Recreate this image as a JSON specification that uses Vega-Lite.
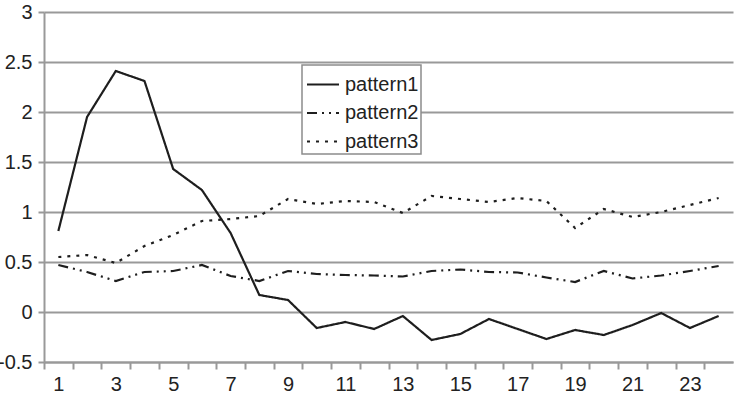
{
  "$schema": "https://vega.github.io/schema/vega-lite/v6.json",
  "width": 689,
  "height": 350,
  "autosize": {"type": "none"},
  "padding": {"left": 44, "top": 12, "right": 1, "bottom": 40},
  "background": "white",
  "config": {
    "view": {"stroke": null},
    "font": "Liberation Sans"
  },
  "datasets": {
    "d": [
      {"x":1,"series":"pattern1","value":0.81},{"x":2,"series":"pattern1","value":1.95},{"x":3,"series":"pattern1","value":2.41},{"x":4,"series":"pattern1","value":2.31},{"x":5,"series":"pattern1","value":1.43},{"x":6,"series":"pattern1","value":1.22},{"x":7,"series":"pattern1","value":0.79},{"x":8,"series":"pattern1","value":0.17},{"x":9,"series":"pattern1","value":0.12},{"x":10,"series":"pattern1","value":-0.16},{"x":11,"series":"pattern1","value":-0.1},{"x":12,"series":"pattern1","value":-0.17},{"x":13,"series":"pattern1","value":-0.04},{"x":14,"series":"pattern1","value":-0.28},{"x":15,"series":"pattern1","value":-0.22},{"x":16,"series":"pattern1","value":-0.07},{"x":17,"series":"pattern1","value":-0.17},{"x":18,"series":"pattern1","value":-0.27},{"x":19,"series":"pattern1","value":-0.18},{"x":20,"series":"pattern1","value":-0.23},{"x":21,"series":"pattern1","value":-0.13},{"x":22,"series":"pattern1","value":-0.01},{"x":23,"series":"pattern1","value":-0.16},{"x":24,"series":"pattern1","value":-0.04},
      {"x":1,"series":"pattern2","value":0.47},{"x":2,"series":"pattern2","value":0.4},{"x":3,"series":"pattern2","value":0.31},{"x":4,"series":"pattern2","value":0.4},{"x":5,"series":"pattern2","value":0.41},{"x":6,"series":"pattern2","value":0.47},{"x":7,"series":"pattern2","value":0.36},{"x":8,"series":"pattern2","value":0.31},{"x":9,"series":"pattern2","value":0.41},{"x":10,"series":"pattern2","value":0.38},{"x":11,"series":"pattern2","value":0.37},{"x":12,"series":"pattern2","value":0.365},{"x":13,"series":"pattern2","value":0.355},{"x":14,"series":"pattern2","value":0.41},{"x":15,"series":"pattern2","value":0.425},{"x":16,"series":"pattern2","value":0.4},{"x":17,"series":"pattern2","value":0.395},{"x":18,"series":"pattern2","value":0.345},{"x":19,"series":"pattern2","value":0.3},{"x":20,"series":"pattern2","value":0.41},{"x":21,"series":"pattern2","value":0.335},{"x":22,"series":"pattern2","value":0.365},{"x":23,"series":"pattern2","value":0.41},{"x":24,"series":"pattern2","value":0.46},
      {"x":1,"series":"pattern3","value":0.55},{"x":2,"series":"pattern3","value":0.57},{"x":3,"series":"pattern3","value":0.49},{"x":4,"series":"pattern3","value":0.66},{"x":5,"series":"pattern3","value":0.77},{"x":6,"series":"pattern3","value":0.91},{"x":7,"series":"pattern3","value":0.93},{"x":8,"series":"pattern3","value":0.96},{"x":9,"series":"pattern3","value":1.13},{"x":10,"series":"pattern3","value":1.08},{"x":11,"series":"pattern3","value":1.11},{"x":12,"series":"pattern3","value":1.1},{"x":13,"series":"pattern3","value":0.99},{"x":14,"series":"pattern3","value":1.16},{"x":15,"series":"pattern3","value":1.13},{"x":16,"series":"pattern3","value":1.1},{"x":17,"series":"pattern3","value":1.14},{"x":18,"series":"pattern3","value":1.11},{"x":19,"series":"pattern3","value":0.84},{"x":20,"series":"pattern3","value":1.03},{"x":21,"series":"pattern3","value":0.95},{"x":22,"series":"pattern3","value":1.0},{"x":23,"series":"pattern3","value":1.07},{"x":24,"series":"pattern3","value":1.14}
    ]
  },
  "data": {"name": "d"},
  "mark": {"type": "line", "stroke": "#1e1e1e", "strokeWidth": 2.2, "strokeCap": "butt"},
  "encoding": {
    "x": {
      "field": "x",
      "type": "quantitative",
      "scale": {"domain": [0.5, 24.5], "nice": false, "zero": false},
      "axis": {
        "title": null,
        "values": [1,2,3,4,5,6,7,8,9,10,11,12,13,14,15,16,17,18,19,20,21,22,23,24],
        "labelExpr": "datum.value % 2 == 1 ? datum.label : ''",
        "tickOffset": -14.35,
        "labelOffset": 14.35,
        "grid": false,
        "domainColor": "#999999",
        "domainWidth": 2,
        "tickColor": "#999999",
        "tickWidth": 2,
        "tickSize": 7,
        "labelFontSize": 20,
        "labelColor": "#222",
        "labelPadding": 5,
        "labelFlush": false,
        "labelOverlap": false
      }
    },
    "y": {
      "field": "value",
      "type": "quantitative",
      "scale": {"domain": [-0.5, 3], "nice": false, "zero": false},
      "axis": {
        "title": null,
        "values": [-0.5, 0, 0.5, 1, 1.5, 2, 2.5, 3],
        "labelExpr": "'' + datum.value",
        "grid": true,
        "gridColor": "#999999",
        "gridWidth": 2,
        "domainColor": "#999999",
        "domainWidth": 2,
        "tickColor": "#999999",
        "tickWidth": 2,
        "tickSize": 6,
        "labelFontSize": 20,
        "labelColor": "#222",
        "labelPadding": 6,
        "labelFlush": false,
        "labelOverlap": false
      }
    },
    "strokeDash": {
      "field": "series",
      "type": "nominal",
      "scale": {
        "domain": ["pattern1", "pattern2", "pattern3"],
        "range": [[1, 0], [10, 5, 2, 5, 2, 5], [3, 6]]
      },
      "legend": {
        "title": null,
        "orient": "none",
        "legendX": 258,
        "legendY": 53,
        "strokeColor": "#8c8c8c",
        "fillColor": "white",
        "padding": 2.5,
        "symbolType": "stroke",
        "symbolSize": 1024,
        "symbolOffset": 1.5,
        "symbolStrokeWidth": 2,
        "symbolStrokeColor": "#1e1e1e",
        "labelFontSize": 20,
        "labelColor": "#222",
        "labelOffset": 5,
        "labelExpr": "datum.label + ' '",
        "rowPadding": 1.5,
        "encode": {
          "legend": {"update": {"strokeWidth": {"value": 1.5}}}
        }
      }
    }
  }
}
